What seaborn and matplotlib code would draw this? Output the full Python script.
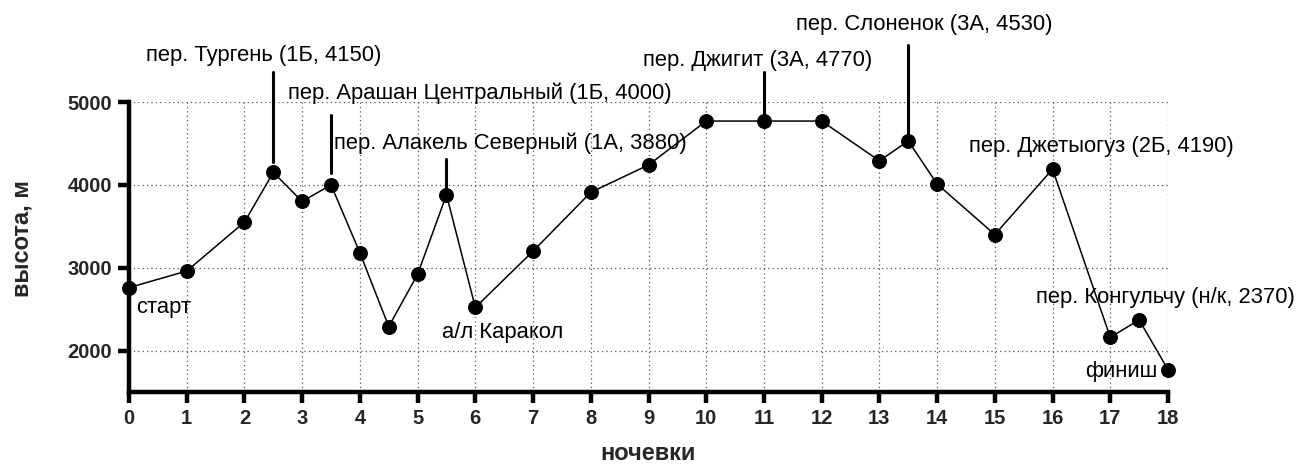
import matplotlib
matplotlib.use("Agg")
import matplotlib.pyplot as plt
import seaborn as sns
import pandas as pd

# ---- data ----
nights = [0, 1, 2, 2.5, 3, 3.5, 4, 4.5, 5, 5.5, 6, 7, 8, 9, 10, 11, 12, 13, 13.5, 14, 15, 16, 17, 17.5, 18]
altitude = [2760, 2960, 3550, 4150, 3800, 4000, 3180, 2290, 2920, 3880, 2520, 3200, 3910, 4240,
            4770, 4770, 4770, 4290, 4530, 4010, 3400, 4190, 2160, 2370, 1770]

pass_labels = ["пер. Тургень (1Б, 4150)",
               "пер. Арашан Центральный (1Б, 4000)",
               "пер. Алакель Северный (1А, 3880)",
               "пер. Джигит (3А, 4770)",
               "пер. Слоненок (3А, 4530)",
               "пер. Джетыогуз (2Б, 4190)",
               "пер. Конгульчу (н/к, 2370)"]
pass_x = [2.5, 3.5, 5.5, 11, 13.5, 16, 17.5]
pass_alt = [4150, 4000, 3880, 4770, 4530, 4190, 2370]

place_labels = ["старт", "а/л Каракол", "финиш"]

x_ticks = list(range(0, 19))
y_ticks = [2000, 3000, 4000, 5000]
x_label = "ночевки"
y_label = "высота, м"

# ---- layout (positions of annotation texts, in data units) ----
pass_text_pos = [(0.3, 5560), (2.75, 5100), (3.55, 4500), (8.9, 5500), (11.55, 5930), (14.55, 4460), (15.72, 2640)]
pass_line = [(5360, 4280), (4840, 4140), (4310, 3960), (5360, 4770), (5690, 4530), None, None]
place_pos = [(0.13, 2520, "left"), (5.42, 2220, "left"), (17.81, 1750, "right")]

sns.set_theme(style="white")
plt.rcParams["font.family"] = ["Liberation Sans", "DejaVu Sans"]

fig = plt.figure(figsize=(12.99, 4.68), dpi=100)
ax = fig.add_axes([129 / 1299, 1 - 392 / 468, (1168 - 129) / 1299, (392 - 102) / 468])

df = pd.DataFrame({"x": nights, "y": altitude})
sns.lineplot(data=df, x="x", y="y", ax=ax, color="black", linewidth=1.1,
             marker="o", markersize=10, markeredgecolor="black", markerfacecolor="black",
             clip_on=False, zorder=5)
for ln in ax.lines:
    ln.set_clip_on(False)

ax.set_xlim(0, 18)
ax.set_ylim(1500, 5000)
ax.set_xticks(x_ticks)
ax.set_yticks(y_ticks)
ax.set_xticklabels([str(t) for t in x_ticks], fontsize=14.5, fontweight="bold")
ax.set_yticklabels([str(t) for t in y_ticks], fontsize=14.5, fontweight="bold")
ax.tick_params(axis="both", direction="out", length=8, width=3.2, color="black", pad=4)
ax.tick_params(axis="both", bottom=True, left=True)

ax.grid(True, which="major", linestyle=(0, (1, 2.5)), color="#555555", linewidth=0.9)
ax.set_axisbelow(True)

for side in ["top", "right"]:
    ax.spines[side].set_visible(False)
for side in ["left", "bottom"]:
    ax.spines[side].set_linewidth(3.2)
    ax.spines[side].set_color("black")

ax.set_xlabel(x_label, fontsize=17, fontweight="bold", va="center", ha="center")
ax.set_ylabel(y_label, fontsize=17, fontweight="bold", va="center", ha="center")
ax.xaxis.set_label_coords(0.5, (392 - 454) / 290)
ax.yaxis.set_label_coords((22 - 129) / 1039, 0.53)

for lab, (tx, ty), ln, px in zip(pass_labels, pass_text_pos, pass_line, pass_x):
    ax.text(tx, ty, lab, fontsize=15.8, ha="left", va="center", color="black", clip_on=False)
    if ln is not None:
        ax.plot([px, px], [ln[0], ln[1]], color="black", linewidth=2.2, clip_on=False, zorder=4)

for lab, (tx, ty, ha) in zip(place_labels, place_pos):
    ax.text(tx, ty, lab, fontsize=15.8, ha=ha, va="center", color="black", clip_on=False)

fig.savefig("out.png", dpi=100)
